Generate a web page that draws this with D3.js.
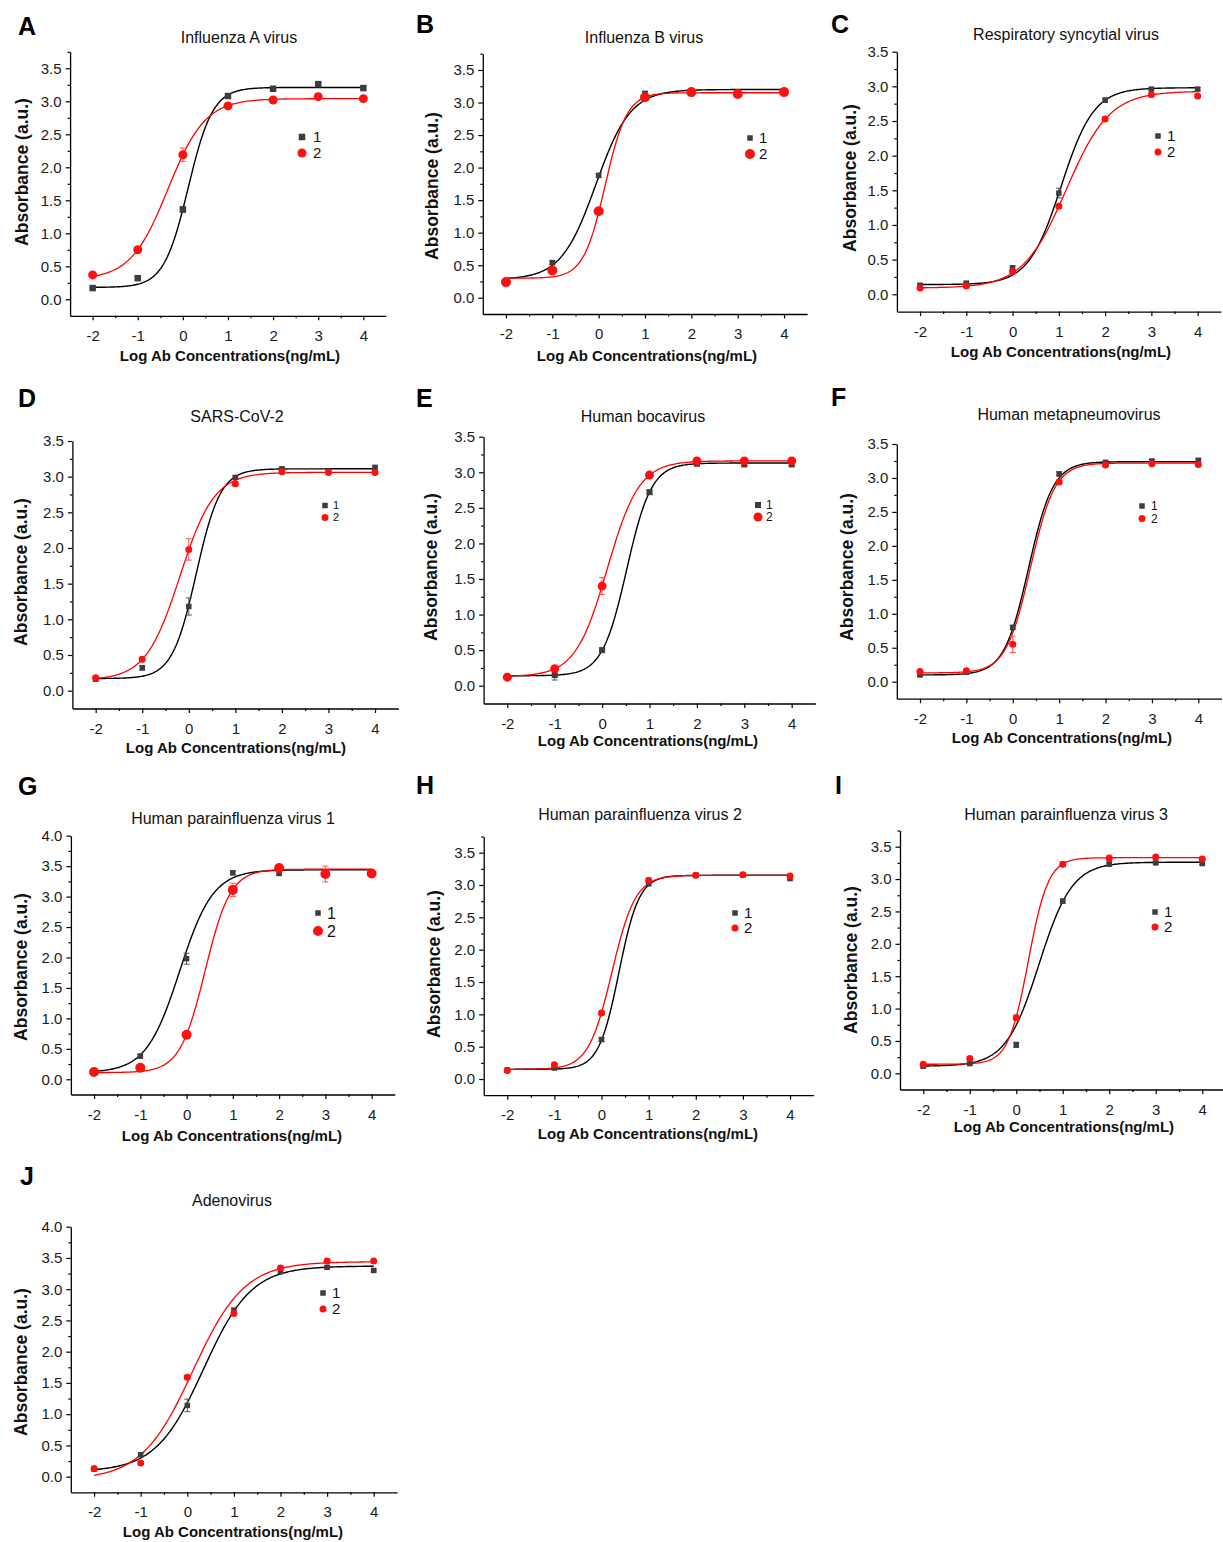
<!DOCTYPE html>
<html>
<head>
<meta charset="utf-8">
<script src="https://cdn.jsdelivr.net/npm/d3@7"></script>
<style>
  html, body { margin: 0; padding: 0; background: #fff; }
  svg { display: block; font-family: "Liberation Sans", Arial, sans-serif; }
</style>
</head>
<body>
<script>
// ---------------- DATA ----------------
const xValues = [-2, -1, 0, 1, 2, 3, 4];
const xTickLabels = ["-2", "-1", "0", "1", "2", "3", "4"];
const panelLetters = ["A", "B", "C", "D", "E", "F", "G", "H", "I", "J"];
const panelTitles = [
  "Influenza A virus", "Influenza B virus", "Respiratory syncytial virus",
  "SARS-CoV-2", "Human bocavirus", "Human metapneumovirus",
  "Human parainfluenza virus 1", "Human parainfluenza virus 2",
  "Human parainfluenza virus 3", "Adenovirus"
];
const seriesNames = ["1", "2"];
const xAxisTitle = "Log Ab Concentrations(ng/mL)";
const yAxisTitle = "Absorbance (a.u.)";
const yAxisMax = [3.75, 3.75, 3.5, 3.5, 3.5, 3.5, 4.0, 3.75, 3.75, 4.0];
const yTickLabels35 = ["0.0", "0.5", "1.0", "1.5", "2.0", "2.5", "3.0", "3.5"];
const yTickLabels40 = ["0.0", "0.5", "1.0", "1.5", "2.0", "2.5", "3.0", "3.5", "4.0"];
const panelTickSet = [35, 35, 35, 35, 35, 35, 40, 35, 35, 40];

const series1Values = [
  [0.17, 0.32, 1.36, 3.08, 3.19, 3.26, 3.20],
  [0.25, 0.54, 1.88, 3.14, 3.14, 3.16, 3.18],
  [0.13, 0.16, 0.38, 1.46, 2.80, 2.96, 2.96],
  [0.16, 0.32, 1.18, 2.99, 3.11, 3.08, 3.13],
  [0.12, 0.15, 0.50, 2.72, 3.12, 3.11, 3.11],
  [0.10, 0.14, 0.80, 3.06, 3.23, 3.25, 3.26],
  [0.12, 0.38, 1.98, 3.39, 3.38, 3.40, 3.38],
  [0.14, 0.17, 0.61, 3.02, 3.15, 3.16, 3.10],
  [0.11, 0.15, 0.44, 2.66, 3.23, 3.25, 3.24],
  [0.12, 0.35, 1.14, 2.66, 3.28, 3.35, 3.30]
];
const series2Values = [
  [0.37, 0.75, 2.19, 2.93, 3.02, 3.07, 3.04],
  [0.24, 0.42, 1.33, 3.08, 3.16, 3.13, 3.16],
  [0.09, 0.12, 0.33, 1.27, 2.53, 2.88, 2.86],
  [0.18, 0.44, 1.98, 2.90, 3.07, 3.06, 3.06],
  [0.12, 0.24, 1.40, 2.96, 3.16, 3.16, 3.16],
  [0.15, 0.16, 0.55, 2.94, 3.19, 3.21, 3.20],
  [0.12, 0.19, 0.73, 3.11, 3.47, 3.37, 3.38],
  [0.13, 0.22, 1.02, 3.07, 3.15, 3.16, 3.14],
  [0.14, 0.23, 0.86, 3.23, 3.32, 3.34, 3.31],
  [0.13, 0.22, 1.59, 2.61, 3.34, 3.45, 3.45]
];
const series1Errors = [
  [0.01, 0.02, 0.04, 0.02, 0.02, 0.02, 0.02],
  [0.02, 0.03, 0.03, 0.03, 0.02, 0.02, 0.02],
  [0.02, 0.02, 0.03, 0.07, 0.03, 0.02, 0.02],
  [0.02, 0.03, 0.12, 0.02, 0.02, 0.02, 0.02],
  [0.02, 0.07, 0.03, 0.03, 0.02, 0.02, 0.02],
  [0.02, 0.02, 0.03, 0.03, 0.02, 0.02, 0.02],
  [0.02, 0.03, 0.09, 0.03, 0.03, 0.02, 0.02],
  [0.02, 0.02, 0.03, 0.03, 0.02, 0.02, 0.02],
  [0.02, 0.02, 0.04, 0.03, 0.02, 0.02, 0.02],
  [0.02, 0.03, 0.10, 0.04, 0.03, 0.02, 0.02]
];
const series2Errors = [
  [0.02, 0.03, 0.10, 0.03, 0.03, 0.03, 0.03],
  [0.02, 0.03, 0.03, 0.03, 0.02, 0.02, 0.02],
  [0.02, 0.02, 0.03, 0.03, 0.03, 0.02, 0.02],
  [0.02, 0.03, 0.15, 0.03, 0.02, 0.02, 0.02],
  [0.02, 0.03, 0.12, 0.03, 0.02, 0.02, 0.02],
  [0.02, 0.02, 0.12, 0.03, 0.02, 0.02, 0.02],
  [0.02, 0.02, 0.05, 0.11, 0.03, 0.13, 0.02],
  [0.02, 0.03, 0.03, 0.04, 0.02, 0.02, 0.02],
  [0.02, 0.03, 0.04, 0.04, 0.05, 0.02, 0.03],
  [0.02, 0.02, 0.03, 0.03, 0.03, 0.03, 0.02]
];
// Dose-response fit parameters: [bottom, top, logEC50, hill slope]
const series1Fit = [
  [0.18, 3.21, 0.12, 1.60], [0.28, 3.20, -0.06, 1.16], [0.14, 2.98, 1.05, 1.23],
  [0.17, 3.11, 0.16, 1.68], [0.14, 3.13, 0.52, 1.67], [0.10, 3.24, 0.34, 1.64],
  [0.11, 3.44, -0.15, 1.20], [0.15, 3.15, 0.37, 2.03], [0.11, 3.26, 0.49, 1.22],
  [0.08, 3.37, 0.35, 0.85]
];
const series2Fit = [
  [0.30, 3.04, -0.33, 1.05], [0.30, 3.15, 0.14, 1.86], [0.09, 2.93, 1.16, 0.93],
  [0.15, 3.06, -0.19, 1.18], [0.13, 3.16, 0.11, 1.29], [0.13, 3.22, 0.38, 1.65],
  [0.11, 3.45, 0.40, 1.59], [0.15, 3.15, 0.22, 1.74], [0.14, 3.33, 0.26, 2.03],
  [-0.05, 3.44, 0.12, 0.79]
];

// ---------------- LAYOUT (pixel positions) ----------------
const layout = [
  {plot:[70.1,385.9,51.8,315.8],   letter:[18,35],   title:[239,43],   xt:[230,361],  yt:[22,172],  leg:[302,137,153,313,15],   sq:6.5, r:4.5},
  {plot:[482.8,807.2,53.7,314],    letter:[416,33],  title:[644,43],   xt:[647,361],  yt:[432,186], leg:[750,138,154,759,15],   sq:5.5, r:5},
  {plot:[896.9,1220.8,51.7,311.6], letter:[831,33],  title:[1066,40],  xt:[1061,357], yt:[850,178], leg:[1158,136,152,1167,15], sq:5.5, r:3.5},
  {plot:[72.4,398.3,441,708.5],    letter:[18,407],  title:[237,422],  xt:[236,753],  yt:[21,572],  leg:[325,505.5,517.5,333,11], sq:5.5, r:3.5},
  {plot:[483.6,815.4,436.7,703.5], letter:[416,407], title:[643,422],  xt:[648,746],  yt:[431,567], leg:[758,505,517,766,12], sq:6,   r:4.5},
  {plot:[896.8,1221.5,444,698.7],  letter:[831,406], title:[1069,420], xt:[1062,743], yt:[847,567], leg:[1142,506,518.5,1151,12],sq:5.5, r:3.5},
  {plot:[70.9,394.8,835.7,1094.5], letter:[18,795],  title:[233,824],  xt:[232,1141], yt:[21,967],  leg:[318,913,931,327,16],   sq:5.5, r:5},
  {plot:[483.7,813.6,836.5,1095.2],letter:[416,794], title:[640,820],  xt:[648,1139], yt:[434,964], leg:[735,913,928,744,15],   sq:5.5, r:3.5},
  {plot:[900,1225.5,830.5,1089.5], letter:[835,794], title:[1066,820], xt:[1064,1132],yt:[851,960], leg:[1155,912,927,1164,15], sq:5.5, r:3.5},
  {plot:[70.8,397,1226.7,1492.3],  letter:[20,1185], title:[232,1206], xt:[233,1537], yt:[21,1362], leg:[323,1293,1309,332,15], sq:5.5, r:3.5}
];

const col1 = {line: "#000000", fill: "#3d3d3d", err: "#555555"};
const col2 = {line: "#ff0000", fill: "#ff1010", err: "#ff5050"};

const svg = d3.select("body").append("svg").attr("width", 1223).attr("height", 1542);

function logistic(p, x) {
  return p[0] + (p[1] - p[0]) / (1 + Math.pow(10, (p[2] - x) * p[3]));
}

panelTitles.forEach((title, i) => {
  const L = layout[i];
  const g = svg.append("g");
  const x = d3.scaleLinear().domain([-2.5, 4.5]).range([L.plot[0], L.plot[1]]);
  const y = d3.scaleLinear().domain([-0.25, yAxisMax[i]]).range([L.plot[3], L.plot[2]]);
  const yLabels = panelTickSet[i] === 40 ? yTickLabels40 : yTickLabels35;
  const yMajor = yLabels.map(Number);
  const yMinor = yMajor.map(v => v + 0.25).filter(v => v <= yAxisMax[i] + 1e-9);
  const xMajor = xTickLabels.map(Number);
  const xMinor = xMajor.slice(0, -1).map(v => v + 0.5);

  // Minor ticks
  g.append("g").attr("transform", `translate(${L.plot[0]},0)`)
    .call(d3.axisLeft(y).tickValues(yMinor).tickSize(2.5).tickSizeOuter(0).tickFormat(""))
    .call(s => s.select(".domain").remove());
  g.append("g").attr("transform", `translate(0,${L.plot[3]})`)
    .call(d3.axisBottom(x).tickValues(xMinor).tickSize(2.5).tickSizeOuter(0).tickFormat(""))
    .call(s => s.select(".domain").remove());

  // Major axes
  const ya = g.append("g").attr("transform", `translate(${L.plot[0]},0)`)
    .call(d3.axisLeft(y).tickValues(yMajor).tickSize(4.5).tickSizeOuter(0).tickPadding(4)
      .tickFormat((d, k) => yLabels[k]));
  const xa = g.append("g").attr("transform", `translate(0,${L.plot[3]})`)
    .call(d3.axisBottom(x).tickValues(xMajor).tickSize(4.5).tickSizeOuter(0).tickPadding(10)
      .tickFormat((d, k) => xTickLabels[k]));
  [ya, xa].forEach(a => {
    a.selectAll("path, line").attr("stroke", "#000").attr("stroke-width", 1.3);
    a.selectAll("text").attr("font-size", 15).attr("fill", "#1a1a1a")
      .attr("font-family", "Liberation Sans, Arial, sans-serif");
  });
  g.selectAll("g.tick line").attr("stroke", "#000").attr("stroke-width", 1.2);

  // Fitted curves
  const xs = d3.range(0, 241).map(k => -2 + k * 6 / 240);
  const line = d3.line().x(d => x(d[0])).y(d => y(d[1])).curve(d3.curveLinear);
  g.append("path").datum(xs.map(v => [v, logistic(series1Fit[i], v)]))
    .attr("d", line).attr("fill", "none").attr("stroke", col1.line).attr("stroke-width", 1.4);
  g.append("path").datum(xs.map(v => [v, logistic(series2Fit[i], v)]))
    .attr("d", line).attr("fill", "none").attr("stroke", col2.line).attr("stroke-width", 1.3);

  // Error bars + markers
  const drawErr = (vals, errs, c) => {
    xValues.forEach((xv, k) => {
      const e = errs[k];
      const yt = y(vals[k] + e), yb = y(vals[k] - e), cx = x(xv);
      const eg = g.append("g").attr("stroke", c).attr("stroke-width", 1);
      eg.append("line").attr("x1", cx).attr("x2", cx).attr("y1", yt).attr("y2", yb);
      eg.append("line").attr("x1", cx - 3).attr("x2", cx + 3).attr("y1", yt).attr("y2", yt);
      eg.append("line").attr("x1", cx - 3).attr("x2", cx + 3).attr("y1", yb).attr("y2", yb);
    });
  };
  drawErr(series1Values[i], series1Errors[i], col1.err);
  drawErr(series2Values[i], series2Errors[i], col2.err);

  g.selectAll("rect.s1").data(xValues).enter().append("rect")
    .attr("x", (d) => x(d) - L.sq / 2)
    .attr("y", (d, k) => y(series1Values[i][k]) - L.sq / 2)
    .attr("width", L.sq).attr("height", L.sq).attr("fill", col1.fill);
  g.selectAll("circle.s2").data(xValues).enter().append("circle")
    .attr("cx", d => x(d)).attr("cy", (d, k) => y(series2Values[i][k]))
    .attr("r", L.r).attr("fill", col2.fill);

  // Legend
  const [lmx, ly1, ly2, ltx, lfs] = L.leg;
  g.append("rect").attr("x", lmx - L.sq / 2).attr("y", ly1 - L.sq / 2)
    .attr("width", L.sq).attr("height", L.sq).attr("fill", col1.fill);
  g.append("circle").attr("cx", lmx).attr("cy", ly2).attr("r", L.r).attr("fill", col2.fill);
  g.append("text").attr("x", ltx).attr("y", ly1).attr("dy", "0.36em")
    .attr("font-size", lfs).attr("fill", "#111").text(seriesNames[0]);
  g.append("text").attr("x", ltx).attr("y", ly2).attr("dy", "0.36em")
    .attr("font-size", lfs).attr("fill", "#111").text(seriesNames[1]);

  // Titles and labels
  g.append("text").attr("x", L.letter[0]).attr("y", L.letter[1])
    .attr("font-size", 25).attr("font-weight", "bold").attr("fill", "#000").text(panelLetters[i]);
  g.append("text").attr("x", L.title[0]).attr("y", L.title[1]).attr("text-anchor", "middle")
    .attr("font-size", 16).attr("fill", "#111").text(title);
  g.append("text").attr("x", L.xt[0]).attr("y", L.xt[1]).attr("text-anchor", "middle")
    .attr("font-size", 15).attr("font-weight", "bold").attr("fill", "#111").text(xAxisTitle);
  g.append("text").attr("transform", `translate(${L.yt[0]},${L.yt[1]}) rotate(-90)`)
    .attr("text-anchor", "middle").attr("dy", "0.36em")
    .attr("font-size", 17.5).attr("font-weight", "bold").attr("fill", "#111").text(yAxisTitle);
});
</script>
</body>
</html>
